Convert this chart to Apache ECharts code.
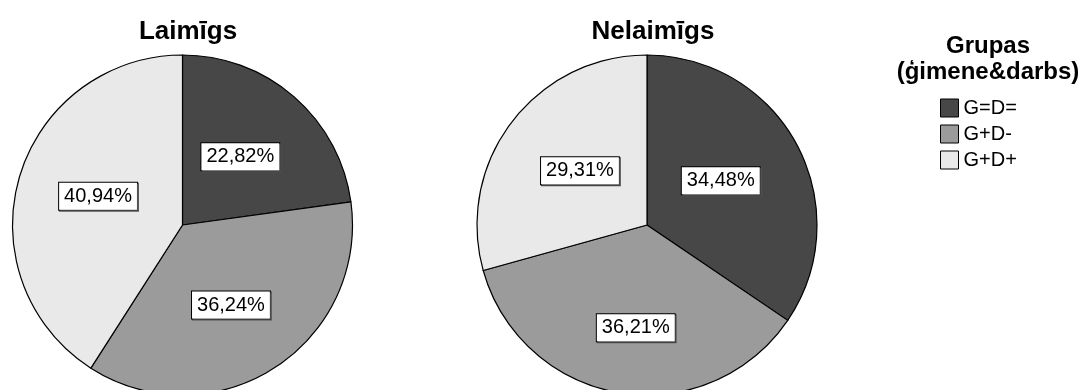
<!DOCTYPE html>
<html>
<head>
<meta charset="utf-8">
<script src="https://cdn.jsdelivr.net/npm/echarts@6/dist/echarts.min.js"></script>
<style>
  html, body { margin: 0; padding: 0; background: #fff; }
  #chart { width: 1078px; height: 390px; }
</style>
</head>
<body>
<div id="chart"></div>
<script>
const categories = ['G=D=', 'G+D-', 'G+D+'];
const chartTitles = ['Laimīgs', 'Nelaimīgs'];
const laimigsValues = [22.82, 36.24, 40.94];
const nelaimigsValues = [34.48, 36.21, 29.31];
const legendTitle = 'Grupas\n(ģimene&darbs)';
const colors = ['#474747', '#9b9b9b', '#e9e9e9'];

const FONT = '"Liberation Sans", Arial, sans-serif';

function fmt(v) { return v.toFixed(2).replace('.', ',') + '%'; }

// label nudges (style only), per pie and slice index
const labelNudges = [
  [[0, -2], [1, 6], [0, -4]],
  [[-4, -3], [3, 16], [3, -1]]
];

function makePie(name, values, cx, pieIndex) {
  return {
    type: 'pie',
    name: name,
    center: [cx, 225],
    radius: 170,
    startAngle: 90,
    clockwise: true,
    silent: true,
    animation: false,
    itemStyle: { borderColor: '#000', borderWidth: 1.2 },
    label: {
      show: true,
      position: 'inside',
      formatter: p => fmt(p.value),
      fontFamily: FONT,
      fontSize: 20,
      color: '#000',
      backgroundColor: '#fff',
      borderColor: '#000',
      borderWidth: 1,
      padding: [4, 5, 3, 5],
      shadowColor: '#555',
      shadowOffsetX: 1,
      shadowOffsetY: 1,
      shadowBlur: 0
    },
    labelLine: { show: false },
    data: categories.map((c, i) => ({
      name: c,
      value: values[i],
      itemStyle: { color: colors[i] },
      label: { offset: labelNudges[pieIndex][i] }
    }))
  };
}

const chart = echarts.init(document.getElementById('chart'), null, { renderer: 'canvas' });
chart.setOption({
  animation: false,
  backgroundColor: '#fff',
  title: [
    { text: chartTitles[0], left: 183, top: 14, textAlign: 'center',
      textStyle: { fontFamily: FONT, fontSize: 26, fontWeight: 'bold', color: '#000' } },
    { text: chartTitles[1], left: 648, top: 14, textAlign: 'center',
      textStyle: { fontFamily: FONT, fontSize: 26, fontWeight: 'bold', color: '#000' } },
    { text: legendTitle, left: 983, top: 28, textAlign: 'center',
      textStyle: { fontFamily: FONT, fontSize: 24, fontWeight: 'bold', color: '#000', lineHeight: 26 } }
  ],
  legend: {
    orient: 'vertical',
    left: 940,
    top: 98,
    padding: 0,
    icon: 'rect',
    itemWidth: 18,
    itemHeight: 18,
    itemGap: 6,
    selectedMode: false,
    data: categories,
    itemStyle: { borderColor: '#000', borderWidth: 1 },
    textStyle: { fontFamily: FONT, fontSize: 20, color: '#000' }
  },
  series: [
    makePie(chartTitles[0], laimigsValues, 182.5, 0),
    makePie(chartTitles[1], nelaimigsValues, 647, 1)
  ]
});
</script>
</body>
</html>
